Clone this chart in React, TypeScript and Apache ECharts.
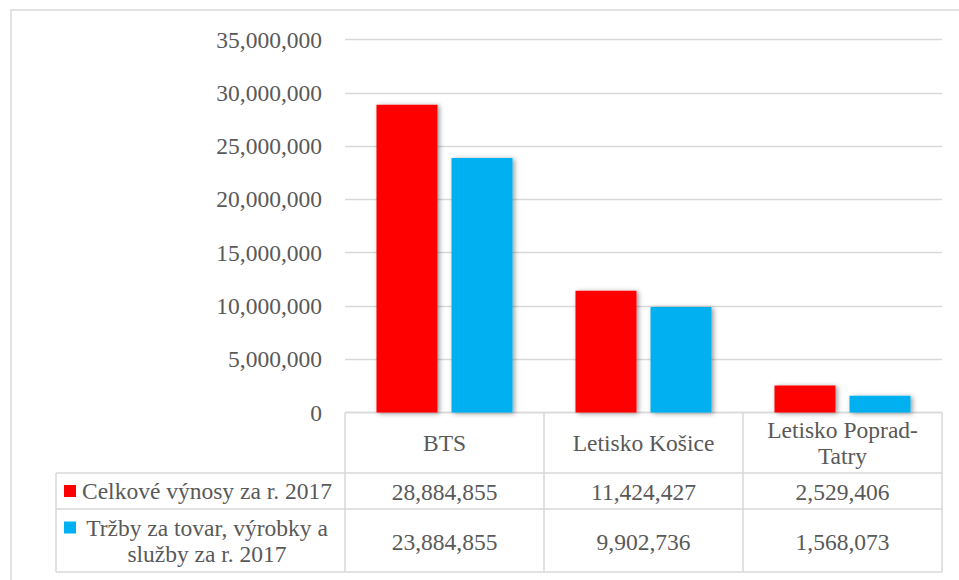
import React, { useEffect, useRef } from "react";
import * as echarts from "echarts";

const categories = ["BTS", "Letisko Košice", "Letisko Poprad-\nTatry"];
const seriesNames = [
  "Celkové výnosy za r. 2017",
  "Tržby za tovar, výrobky a služby za r. 2017",
];
const legendLabels = [
  "Celkové výnosy za r. 2017",
  "Tržby za tovar, výrobky a\nslužby za r. 2017",
];
const revenue = [28884855, 11424427, 2529406];
const sales = [23884855, 9902736, 1568073];
const seriesColors = ["#ff0000", "#00b0f0"];
const yMin = 0;
const yMax = 35000000;
const yInterval = 5000000;

const FONT = "serif";
const TEXT = "#595959";
const LINE = "#d9d9d9";
const FS = 23.5;

const GRID_LEFT = 345;
const GRID_RIGHT_X = 942;
const GRID_TOP = 39.5;
const AXIS_Y = 412.5;
const ROW1_Y = 473;
const ROW2_Y = 509;
const TABLE_BOTTOM = 572;
const TABLE_LEFT = 56;

const fmt = (v: number) => v.toLocaleString("en-US");

export default function App() {
  const ref = useRef<HTMLDivElement>(null);
  useEffect(() => {
    if (!ref.current) return;
    const chart = echarts.init(ref.current, null, { renderer: "svg" });
    const seriesData = [revenue, sales];
    chart.setOption({
      animation: false,
      backgroundColor: "#ffffff",
      textStyle: { fontFamily: FONT },
      grid: {
        left: GRID_LEFT,
        top: GRID_TOP,
        width: GRID_RIGHT_X - GRID_LEFT,
        height: AXIS_Y - GRID_TOP,
        containLabel: false,
      },
      xAxis: {
        type: "category",
        data: categories,
        axisLine: { show: false },
        axisTick: { show: false },
        axisLabel: {
          color: TEXT,
          fontFamily: FONT,
          fontSize: FS,
          lineHeight: 26,
          verticalAlign: "middle",
          margin: 30.5,
          interval: 0,
        },
      },
      yAxis: {
        type: "value",
        min: yMin,
        max: yMax,
        interval: yInterval,
        axisLine: { show: false },
        axisTick: { show: false },
        splitLine: { lineStyle: { color: LINE, width: 1.3 } },
        axisLabel: {
          color: TEXT,
          fontFamily: FONT,
          fontSize: FS,
          margin: 23,
          formatter: (v: number) => fmt(v),
        },
      },
      series: seriesNames.map((name, i) => ({
        name,
        type: "bar",
        data: seriesData[i],
        barWidth: 61,
        barGap: "23%",
        itemStyle: {
          color: seriesColors[i],
          shadowBlur: 5,
          shadowColor: "rgba(0,0,0,0.4)",
          shadowOffsetX: 2,
          shadowOffsetY: 1,
        },
      })),
    });

    const colCenters = categories.map((_, i) =>
      chart.convertToPixel({ xAxisIndex: 0 }, i) as number
    );
    const colWidth = (GRID_RIGHT_X - GRID_LEFT) / categories.length;
    const lineStyle = { stroke: LINE, lineWidth: 1.5 };
    const hLine = (x1: number, x2: number, y: number) => ({
      type: "line",
      shape: { x1, y1: y, x2, y2: y },
      style: lineStyle,
      silent: true,
    });
    const vLine = (x: number, y1: number, y2: number) => ({
      type: "line",
      shape: { x1: x, y1, x2: x, y2 },
      style: lineStyle,
      silent: true,
    });
    const graphics: any[] = [];
    graphics.push({
      type: "rect",
      shape: { x: 11, y: 10, width: 1000, height: 700 },
      style: { fill: "none", stroke: LINE, lineWidth: 1.5 },
      silent: true,
    });
    graphics.push(hLine(GRID_LEFT, GRID_RIGHT_X, AXIS_Y));
    graphics.push(hLine(TABLE_LEFT, GRID_RIGHT_X, ROW1_Y));
    graphics.push(hLine(TABLE_LEFT, GRID_RIGHT_X, ROW2_Y));
    graphics.push(hLine(TABLE_LEFT, GRID_RIGHT_X, TABLE_BOTTOM));
    graphics.push(vLine(TABLE_LEFT, ROW1_Y, TABLE_BOTTOM));
    for (let i = 0; i <= categories.length; i++) {
      graphics.push(vLine(GRID_LEFT + colWidth * i, AXIS_Y, TABLE_BOTTOM));
    }
    const rowCenters = [(ROW1_Y + ROW2_Y) / 2, (ROW2_Y + TABLE_BOTTOM) / 2];
    const keyYs = [rowCenters[0], 527.5];
    seriesNames.forEach((_, si) => {
      graphics.push({
        type: "rect",
        shape: { x: 64, y: keyYs[si] - 6, width: 12, height: 12 },
        style: { fill: seriesColors[si] },
        silent: true,
      });
      graphics.push({
        type: "text",
        x: 207,
        y: rowCenters[si],
        style: {
          text: legendLabels[si],
          fill: TEXT,
          fontFamily: FONT,
          fontSize: FS,
          lineHeight: 26,
          align: "center",
          verticalAlign: "middle",
        },
        silent: true,
      });
      seriesData[si].forEach((v, ci) => {
        graphics.push({
          type: "text",
          x: colCenters[ci],
          y: rowCenters[si] + 1,
          style: {
            text: fmt(v),
            fill: TEXT,
            fontFamily: FONT,
            fontSize: FS,
            align: "center",
            verticalAlign: "middle",
          },
          silent: true,
        });
      });
    });
    chart.setOption({ graphic: graphics });
    return () => chart.dispose();
  }, []);
  return (
    <div
      ref={ref}
      style={{ position: "absolute", left: 0, top: 0, width: 959, height: 580 }}
    />
  );
}
